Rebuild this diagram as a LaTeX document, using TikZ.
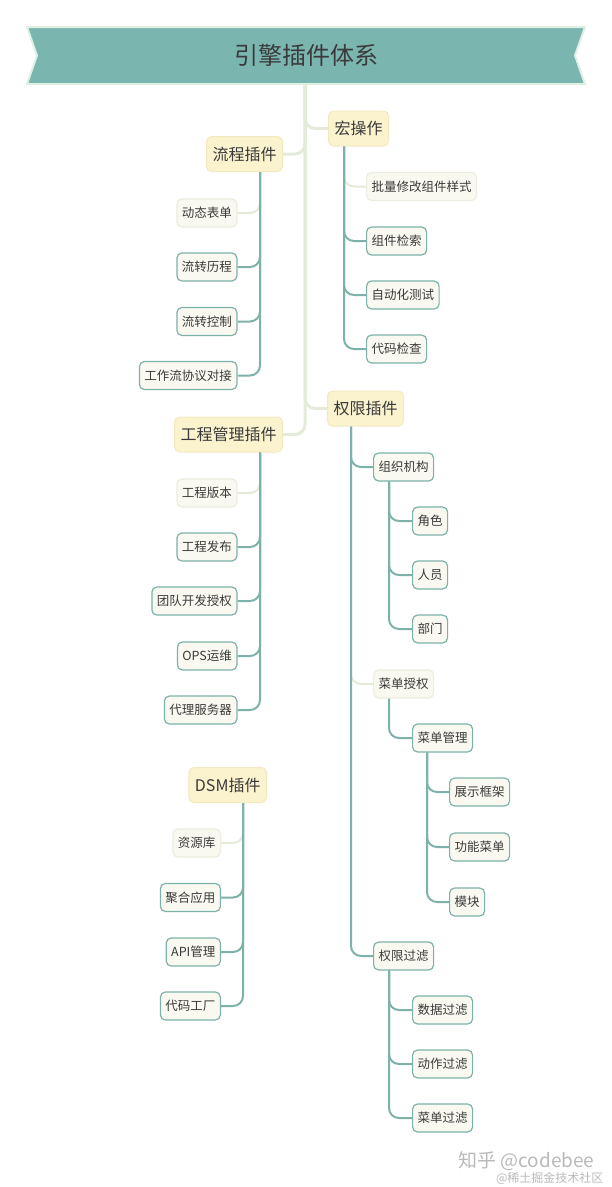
\documentclass[tikz,border=0pt]{standalone}
\usepackage{fontspec}
\setmainfont{Noto Sans CJK SC}
\usetikzlibrary{positioning}
\definecolor{bannerteal}{RGB}{122,181,176}
\definecolor{bannerrim}{RGB}{222,240,226}
\definecolor{topicfill}{RGB}{251,242,206}
\definecolor{topicrim}{RGB}{243,232,192}
\definecolor{subfill}{RGB}{250,249,241}
\definecolor{ghostrim}{RGB}{236,237,224}
\definecolor{linkteal}{RGB}{125,178,171}
\definecolor{paleline}{RGB}{228,235,218}
\definecolor{inkgray}{RGB}{58,58,58}
\definecolor{markgray}{RGB}{185,185,185}

\begin{document}
\begin{tikzpicture}[
    x=1pt, y=-1pt,
    topic/.style={rectangle, draw=topicrim, fill=topicfill, rounded corners=5pt, line width=1pt,
                  minimum height=35pt, inner xsep=6pt, font=\fontsize{16}{18}\selectfont, text=inkgray},
    sub/.style={rectangle, draw=linkteal, fill=subfill, rounded corners=5pt, line width=1.2pt,
                minimum height=28pt, inner xsep=5pt, font=\fontsize{12.5}{14}\selectfont, text=inkgray},
    ghost/.style={sub, draw=ghostrim},
    link/.style={linkteal, line width=2pt, rounded corners=10pt},
    palelink/.style={link, color=paleline},
    trunk/.style={paleline, line width=3pt, rounded corners=10pt},
    watermark/.style={text=markgray}
]
\useasboundingbox (0,0) rectangle (612,1187);

% Banner
\fill[bannerteal, draw=bannerrim, line width=2pt]
    (27,27) -- (585,27) -- (575,55.5) -- (585,84) -- (27,84) -- (37,55.5) -- cycle;
\node[font=\fontsize{24}{28}\selectfont, text=inkgray] (title) at (306,55.5) {引擎插件体系};
\coordinate (root) at (305,84);

% Main topics
\node[topic, anchor=west] (macro) at (328,128.5) {宏操作};
\node[topic, anchor=east] (flow) at (283,154) {流程插件};
\node[topic, anchor=west] (perm) at (327,408.5) {权限插件};
\node[topic, anchor=east] (proj) at (283,434.5) {工程管理插件};
\node[topic, anchor=east] (dsm) at (267,785) {DSM插件};

% Flow plugin
\node[ghost, anchor=east] (flowa) at (237.5,213) {动态表单};
\node[sub, anchor=east] (flowb) at (237.5,267) {流转历程};
\node[sub, anchor=east] (flowc) at (237.5,321.5) {流转控制};
\node[sub, anchor=east] (flowd) at (237.5,375.5) {工作流协议对接};

% Macro operations
\node[ghost, anchor=west] (macroa) at (366,186.5) {批量修改组件样式};
\node[sub, anchor=west] (macrob) at (366,241) {组件检索};
\node[sub, anchor=west] (macroc) at (366,295) {自动化测试};
\node[sub, anchor=west] (macrod) at (366,349) {代码检查};

% Project management
\node[ghost, anchor=east] (proja) at (237.5,493) {工程版本};
\node[sub, anchor=east] (projb) at (237.5,547) {工程发布};
\node[sub, anchor=east] (projc) at (237.5,601) {团队开发授权};
\node[sub, anchor=east] (projd) at (237.5,656) {OPS运维};
\node[sub, anchor=east] (proje) at (237.5,710) {代理服务器};

% Permissions
\node[sub, anchor=west] (org) at (373,467) {组织机构};
\node[sub, anchor=west] (role) at (412,521) {角色};
\node[sub, anchor=west] (staff) at (412,575) {人员};
\node[sub, anchor=west] (dept) at (412,629) {部门};
\node[ghost, anchor=west] (menu) at (373,684) {菜单授权};
\node[sub, anchor=west] (menumgr) at (412,738) {菜单管理};
\node[sub, anchor=west] (frame) at (449,792) {展示框架};
\node[sub, anchor=west] (func) at (449,847) {功能菜单};
\node[sub, anchor=west] (module) at (449,902) {模块};
\node[sub, anchor=west] (filt) at (373,956) {权限过滤};
\node[sub, anchor=west] (dataf) at (412,1010) {数据过滤};
\node[sub, anchor=west] (actf) at (412,1064) {动作过滤};
\node[sub, anchor=west] (menuf) at (412,1118) {菜单过滤};

% DSM plugin
\node[ghost, anchor=east] (dsma) at (221,843) {资源库};
\node[sub, anchor=east] (dsmb) at (221,897.5) {聚合应用};
\node[sub, anchor=east] (dsmc) at (221,952) {API管理};
\node[sub, anchor=east] (dsmd) at (221,1006) {代码工厂};

% Watermark
\node[watermark, font=\fontsize{19}{22}\selectfont, anchor=east] (wm1) at (598,1161) {知乎 @codebee};
\node[watermark, font=\fontsize{12}{14}\selectfont, anchor=east] (wm2) at (607,1178) {@稀土掘金技术社区};

% Trunk
\draw[trunk] (root) |- (macro.west);
\draw[trunk] (root) |- (flow.east);
\draw[trunk] (root) |- (perm.west);
\draw[trunk] (root) |- (proj.east);

% Pale branches
\draw[palelink] ([xshift=-23pt]flow.south east) |- (flowa.east);
\draw[palelink] ([xshift=16pt]macro.south west) |- (macroa.west);
\draw[palelink] ([xshift=-23pt]proj.south east) |- (proja.east);
\draw[palelink] ([xshift=24pt]perm.south west) |- (menu.west);
\draw[palelink] ([xshift=-24pt]dsm.south east) |- (dsma.east);

% Branches
\foreach \kid in {flowb, flowc, flowd}
  \draw[link] ([xshift=-23pt]flow.south east) |- (\kid.east);
\foreach \kid in {macrob, macroc, macrod}
  \draw[link] ([xshift=16pt]macro.south west) |- (\kid.west);
\foreach \kid in {projb, projc, projd, proje}
  \draw[link] ([xshift=-23pt]proj.south east) |- (\kid.east);
\foreach \kid in {org, filt}
  \draw[link] ([xshift=24pt]perm.south west) |- (\kid.west);
\foreach \kid in {role, staff, dept}
  \draw[link] ([xshift=16pt]org.south west) |- (\kid.west);
\draw[link] ([xshift=16pt]menu.south west) |- (menumgr.west);
\foreach \kid in {frame, func, module}
  \draw[link] ([xshift=15pt]menumgr.south west) |- (\kid.west);
\foreach \kid in {dataf, actf, menuf}
  \draw[link] ([xshift=16pt]filt.south west) |- (\kid.west);
\foreach \kid in {dsmb, dsmc, dsmd}
  \draw[link] ([xshift=-24pt]dsm.south east) |- (\kid.east);

\end{tikzpicture}
\end{document}
